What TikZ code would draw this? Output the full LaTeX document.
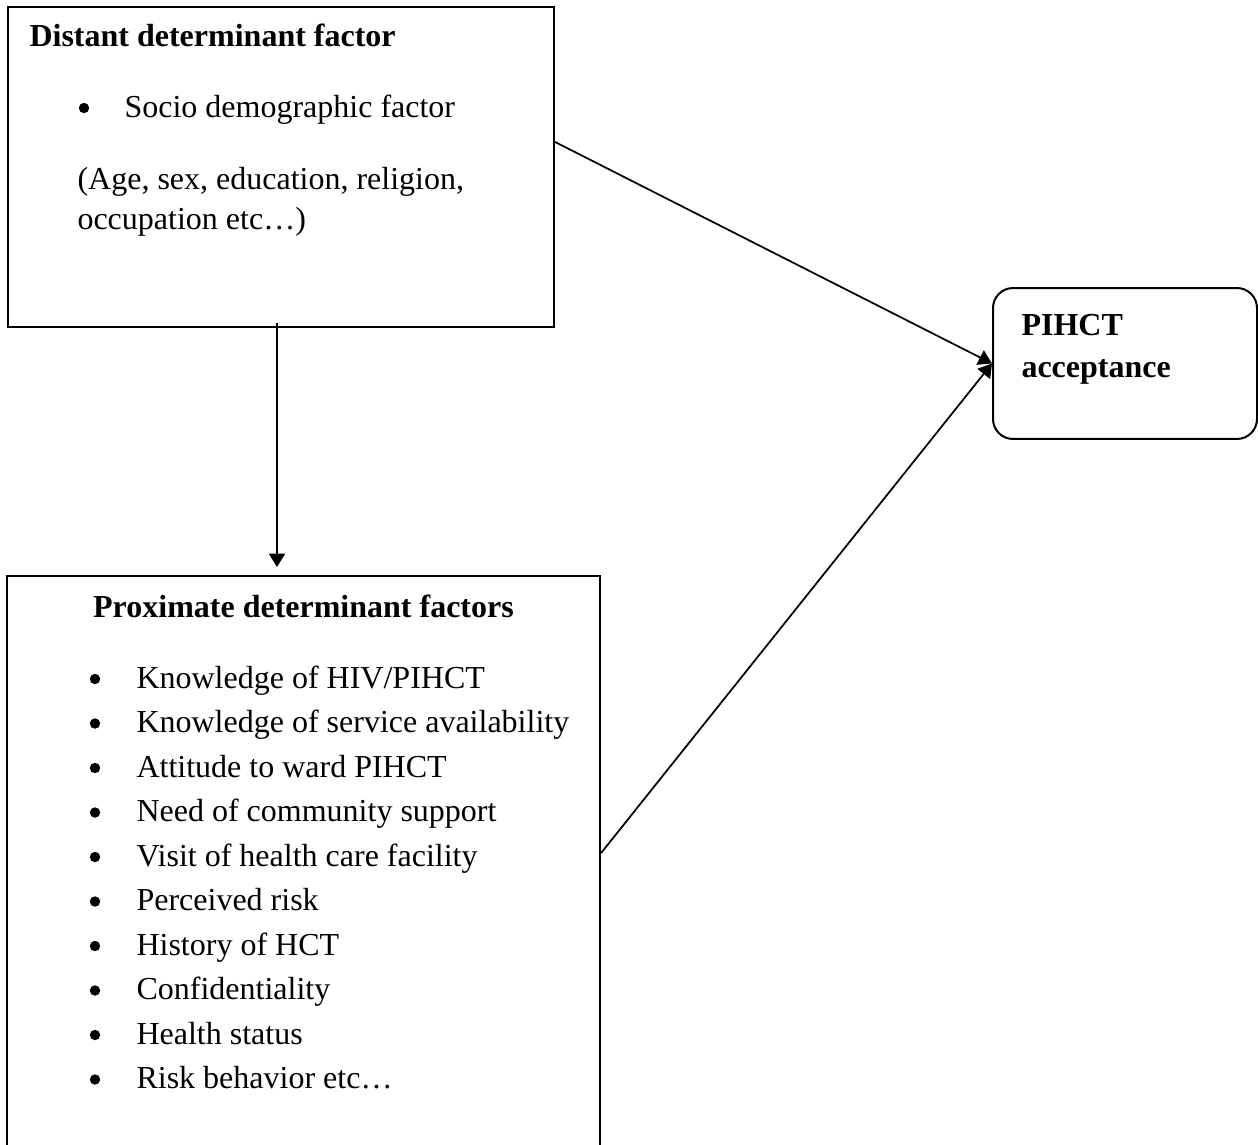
\documentclass[tikz,border=0pt]{standalone}
\usepackage{fontspec}
\setmainfont{Liberation Serif}
\usetikzlibrary{arrows.meta, positioning}

\newcommand\boxsize{\fontsize{12}{14}\selectfont}

\tikzset{
  box/.style={draw, line width=0.75pt, inner sep=0pt},
  rbox/.style={box, rounded corners=7.5pt},
  head/.style={anchor=base west, inner sep=0pt, font=\boxsize\bfseries},
  txt/.style={anchor=base west, inner sep=0pt},
  dot/.style={circle, fill, inner sep=0pt, minimum size=3.9pt},
  arr/.style={-{Triangle[length=5pt,width=6pt]}, line width=0.65pt},
}

\begin{document}
\begin{tikzpicture}[x=0.375pt, y=-0.375pt, font=\boxsize]
    \useasboundingbox (0,0) rectangle (1258,1144);

    \node[box, minimum width=204.75pt, minimum height=120pt] (distant) at (281,167) {};
    \node[head] (dtitle) at (29,46) {Distant determinant factor};
    \node[dot] (dbul) at (84,108) {};
    \node[txt] (socio) at (124,117) {Socio demographic factor};
    \node[txt] (age) at (77,189) {(Age, sex, education, religion,};
    \node[txt] (occ) at (77,229) {occupation etc…)};

    \node[rbox, minimum width=99pt, minimum height=56.6pt] (accept) at (1125,363.5) {};
    \node[head] (pihct) at (1021,335) {PIHCT};
    \node[head] (acc) at (1021,377) {acceptance};

    \node[box, minimum width=222.4pt, minimum height=219pt] (proximate) at (303.5,868) {};
    \node[head, anchor=base] (ptitle) at (303.5,617) {Proximate determinant factors};
    \foreach \item [count=\i from 0] in {Knowledge of HIV/PIHCT, Knowledge of service availability,
        Attitude to ward PIHCT, Need of community support, Visit of health care facility,
        Perceived risk, History of HCT, Confidentiality, Health status, Risk behavior etc…}{
        \node[dot] (b\i) at (95,{679+44.5*\i}) {};
        \node[txt] (f\i) at (136,{688+44.5*\i}) {\item};
    }

    \draw[arr, shorten >=3pt] ([xshift=-1.5pt,yshift=1.9pt]distant.south) -- ([xshift=-1.5pt]distant.south |- proximate.north);
    \draw[arr] ([yshift=9.4pt]distant.east) -- (accept.west);
    \draw[arr] ([yshift=5.6pt]proximate.east) -- (accept.west);
\end{tikzpicture}
\end{document}
